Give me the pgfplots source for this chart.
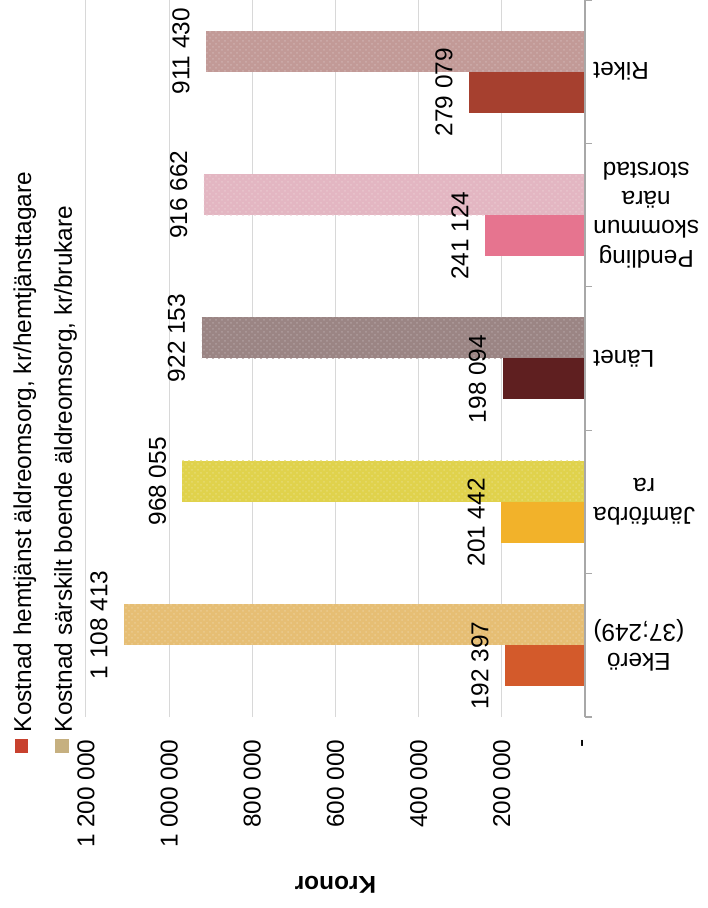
\documentclass[border=0pt]{standalone}
\usepackage{fontspec}
\setmainfont{Liberation Sans}
\usepackage{pgfplots}
\pgfplotsset{compat=1.18}
\usetikzlibrary{patterns}

\definecolor{ekS}{HTML}{D35A2B}
\definecolor{ekP}{HTML}{E6BE74}
\definecolor{jaS}{HTML}{F2B22A}
\definecolor{jaP}{HTML}{E0D24C}
\definecolor{laS}{HTML}{5F1F20}
\definecolor{laP}{HTML}{9B8584}
\definecolor{peS}{HTML}{E6748F}
\definecolor{peP}{HTML}{E3B6C2}
\definecolor{riS}{HTML}{A6402F}
\definecolor{riP}{HTML}{C29A97}
\definecolor{legred}{HTML}{C8412E}
\definecolor{legtan}{HTML}{C6B080}
\definecolor{gridgray}{HTML}{D8D8D8}
\definecolor{axisgray}{HTML}{A8A8A8}

\begin{document}
\fontsize{12.2}{14.6}\selectfont
\begin{tikzpicture}
\begin{axis}[
    scale only axis, width=249.5pt, height=358.5pt,
    xbar, bar width=20.5pt,
    x dir=reverse,
    xmin=0, xmax=1200000,
    ymin=-0.5, ymax=4.5,
    clip=false,
    scaled x ticks=false,
    xtick={0,200000,400000,600000,800000,1000000,1200000},
    xticklabels={-, 200 000, 400 000, 600 000, 800 000, 1 000 000, 1 200 000},
    xticklabel style={rotate=90, anchor=east, inner xsep=11pt},
    ytick={0,1,2,3,4},
    yticklabels={{Ekerö\\(37;249)}, {Jämförba\\ra}, Länet, {Pendling\\skommun\\nära\\storstad}, Riket},
    yticklabel pos=right,
    ytick pos=right,
    yticklabel style={rotate=180, anchor=east, align=center, inner xsep=4pt},
    minor ytick={-0.5,0.5,1.5,2.5,3.5,4.5},
    major tick length=0pt, minor tick length=3.5pt,
    tick align=outside,
    tick style={color=axisgray, line width=0.6pt},
    xmajorgrids, grid style={color=gridgray, line width=0.5pt},
    axis line style={draw=none},
    xlabel={\bfseries Kronor},
    xlabel style={at={(axis description cs:0.5,-0.2343)}, anchor=center, rotate=180},
    point meta=explicit symbolic,
    nodes near coords,
    every node near coord/.append style={rotate=90, anchor=south, inner xsep=0pt, inner ysep=8pt, text=black},
]
% kostnad särskilt boende (mönstrade staplar)
\addplot[draw=none, fill=ekP, postaction={pattern=crosshatch dots, pattern color=ekP!80!white}, bar shift=10.25pt, forget plot] coordinates {(1108413,0) [1 108 413]};
\addplot[draw=none, fill=jaP, postaction={pattern=crosshatch dots, pattern color=jaP!80!white}, bar shift=10.25pt, forget plot] coordinates {(968055,1) [968 055]};
\addplot[draw=none, fill=laP, postaction={pattern=crosshatch dots, pattern color=laP!80!white}, bar shift=10.25pt, forget plot] coordinates {(922153,2) [922 153]};
\addplot[draw=none, fill=peP, postaction={pattern=crosshatch dots, pattern color=peP!80!white}, bar shift=10.25pt, forget plot] coordinates {(916662,3) [916 662]};
\addplot[draw=none, fill=riP, postaction={pattern=crosshatch dots, pattern color=riP!80!white}, bar shift=10.25pt, forget plot] coordinates {(911430,4) [911 430]};
% kostnad hemtjänst
\addplot[draw=none, fill=ekS, bar shift=-10.25pt, forget plot] coordinates {(192397,0) [192 397]};
\addplot[draw=none, fill=jaS, bar shift=-10.25pt, forget plot] coordinates {(201442,1) [201 442]};
\addplot[draw=none, fill=laS, bar shift=-10.25pt, forget plot] coordinates {(198094,2) [198 094]};
\addplot[draw=none, fill=peS, bar shift=-10.25pt, forget plot] coordinates {(241124,3) [241 124]};
\addplot[draw=none, fill=riS, bar shift=-10.25pt, forget plot] coordinates {(279079,4) [279 079]};

\draw[color=axisgray, line width=0.6pt] (axis cs:0,-0.5) -- (axis cs:0,4.5);

% legend, rotated like the rest
\node[rotate=90, anchor=base west, inner sep=0pt] at (axis description cs:-0.1102,-0.0502)
  {\textcolor{legred}{\raisebox{1.5pt}{\rule{6.75pt}{6.75pt}}}\hspace{3.5pt}Kostnad hemtjänst äldreomsorg, kr/hemtjänsttagare};
\node[rotate=90, anchor=base west, inner sep=0pt] at (axis description cs:-0.0281,-0.0502)
  {\textcolor{legtan}{\raisebox{1.5pt}{\rule{6.75pt}{6.75pt}}}\hspace{3.5pt}Kostnad särskilt boende äldreomsorg, kr/brukare};

\coordinate (bl) at (axis description cs:0,0);
\end{axis}
\pgfresetboundingbox
\path[use as bounding box] ([shift={(-43pt,-95.5pt)}]bl) rectangle ([shift={(310.5pt,358.5pt)}]bl);
\end{tikzpicture}
\end{document}
